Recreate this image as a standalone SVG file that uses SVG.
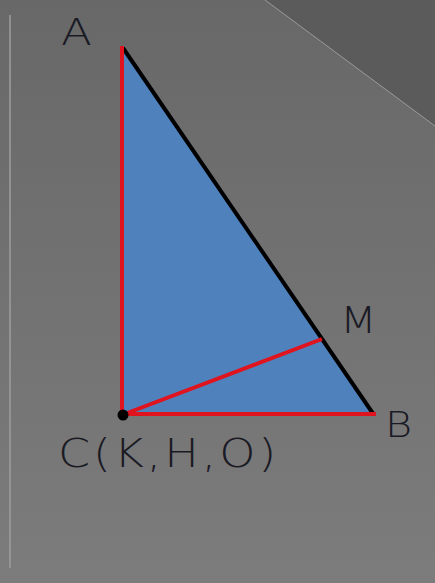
<svg xmlns="http://www.w3.org/2000/svg" width="435" height="583" viewBox="0 0 435 583">
<defs>
<linearGradient id="bg" x1="0" y1="0" x2="0" y2="1">
<stop offset="0" stop-color="#686868"/>
<stop offset="1" stop-color="#7c7c7c"/>
</linearGradient>
</defs>
<style>
.lbl{font-family:"DejaVu Sans","Liberation Sans",sans-serif;fill:#1a1a24;font-weight:200}
.red{stroke:#e0141e;stroke-width:4;fill:none;stroke-linecap:butt}
</style>
<rect width="435" height="583" fill="url(#bg)"/>
<polygon points="265,0 435,0 435,126" fill="#5b5b5b"/>
<line x1="265" y1="0" x2="435" y2="126" stroke="#9a9a9a" stroke-width="1"/>
<line x1="10" y1="15" x2="10" y2="568" stroke="#9e9e9e" stroke-width="1.5"/>
<g id="triangle">
<polygon points="122,46 374,415 122,415" fill="#4f81bd"/>
<line x1="123" y1="48" x2="374" y2="415" stroke="#000" stroke-width="4"/>
</g>
<g id="connectors">
<line class="red" x1="122" y1="46" x2="122" y2="415"/>
<line class="red" x1="122" y1="414" x2="376" y2="414"/>
<line class="red" x1="122" y1="415" x2="322" y2="339"/>
</g>
<g id="C"><circle cx="123" cy="415" r="5.5" fill="#000"/></g>
<g id="labels">
<text class="lbl" font-size="37" transform="translate(61,45) scale(1.22,1)">A</text>
<text class="lbl" font-size="37" transform="translate(340,333) scale(1.15,1)">M</text>
<text class="lbl" font-size="36" transform="translate(385,437) scale(1.15,1)">B</text>
<text class="lbl" font-size="39" transform="translate(58,467) scale(1.18,1)" textLength="185" lengthAdjust="spacing">C(K,H,O)</text>
</g>
</svg>
